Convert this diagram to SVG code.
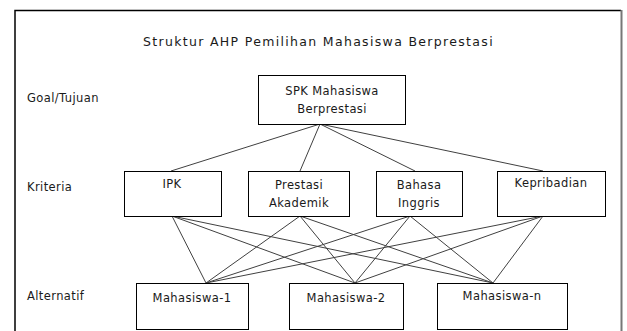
<svg xmlns="http://www.w3.org/2000/svg" width="627" height="331" viewBox="0 0 627 331">
<style>
.t{font-family:"DejaVu Sans","Open Sans",sans-serif;font-size:11.5px;letter-spacing:0.4px;fill:#1a1a1a;}
.c{text-anchor:middle;}
.box{fill:#fff;stroke:#000;stroke-width:1;}
.ln{stroke:#404040;stroke-width:1;fill:none;}
</style>
<rect x="0" y="0" width="627" height="331" fill="#fff"/>
<path d="M15,331 V10.5 H621" fill="none" stroke="#000" stroke-width="1.5"/>
<path d="M621.5,10 V331" fill="none" stroke="#777" stroke-width="2"/>
<text class="t" x="143" y="46" style="font-size:12.5px" textLength="350" lengthAdjust="spacing">Struktur AHP Pemilihan Mahasiswa Berprestasi</text>
<text class="t" x="27" y="102">Goal/Tujuan</text>
<text class="t" x="27" y="191">Kriteria</text>
<text class="t" x="27" y="300">Alternatif</text>
<g id="connectors">
<line class="ln" x1="320" y1="124" x2="171" y2="171"/>
<line class="ln" x1="320" y1="124" x2="300" y2="171"/>
<line class="ln" x1="320" y1="124" x2="415" y2="171"/>
<line class="ln" x1="320" y1="124" x2="543" y2="171"/>
<line class="ln" x1="172" y1="216" x2="206" y2="283"/>
<line class="ln" x1="172" y1="216" x2="355" y2="283"/>
<line class="ln" x1="172" y1="216" x2="493" y2="283"/>
<line class="ln" x1="300" y1="216" x2="206" y2="283"/>
<line class="ln" x1="300" y1="216" x2="355" y2="283"/>
<line class="ln" x1="300" y1="216" x2="493" y2="283"/>
<line class="ln" x1="410" y1="216" x2="206" y2="283"/>
<line class="ln" x1="410" y1="216" x2="355" y2="283"/>
<line class="ln" x1="410" y1="216" x2="493" y2="283"/>
<line class="ln" x1="543" y1="216" x2="206" y2="283"/>
<line class="ln" x1="543" y1="216" x2="355" y2="283"/>
<line class="ln" x1="543" y1="216" x2="493" y2="283"/>
</g>
<g id="goal">
<rect class="box" x="258.5" y="75.5" width="147" height="49"/>
<text class="t c" x="332" y="95">SPK Mahasiswa</text>
<text class="t c" x="332" y="113">Berprestasi</text>
</g>
<g id="ipk">
<rect class="box" x="124.5" y="171.5" width="97" height="45"/>
<text class="t c" x="172" y="188">IPK</text>
</g>
<g id="prestasi">
<rect class="box" x="248.5" y="171.5" width="101" height="45"/>
<text class="t c" x="299" y="189">Prestasi</text>
<text class="t c" x="299" y="207">Akademik</text>
</g>
<g id="bahasa">
<rect class="box" x="376.5" y="171.5" width="86" height="45"/>
<text class="t c" x="419" y="189">Bahasa</text>
<text class="t c" x="419" y="207">Inggris</text>
</g>
<g id="kepribadian">
<rect class="box" x="497.5" y="171.5" width="108" height="45"/>
<text class="t c" x="551" y="187">Kepribadian</text>
</g>
<g id="m1">
<rect class="box" x="136.5" y="283.5" width="112" height="46"/>
<text class="t c" x="192" y="302">Mahasiswa-1</text>
</g>
<g id="m2">
<rect class="box" x="289.5" y="283.5" width="114" height="46"/>
<text class="t c" x="346" y="302">Mahasiswa-2</text>
</g>
<g id="mn">
<rect class="box" x="437.5" y="283.5" width="130" height="46"/>
<text class="t c" x="502" y="300">Mahasiswa-n</text>
</g>
</svg>
